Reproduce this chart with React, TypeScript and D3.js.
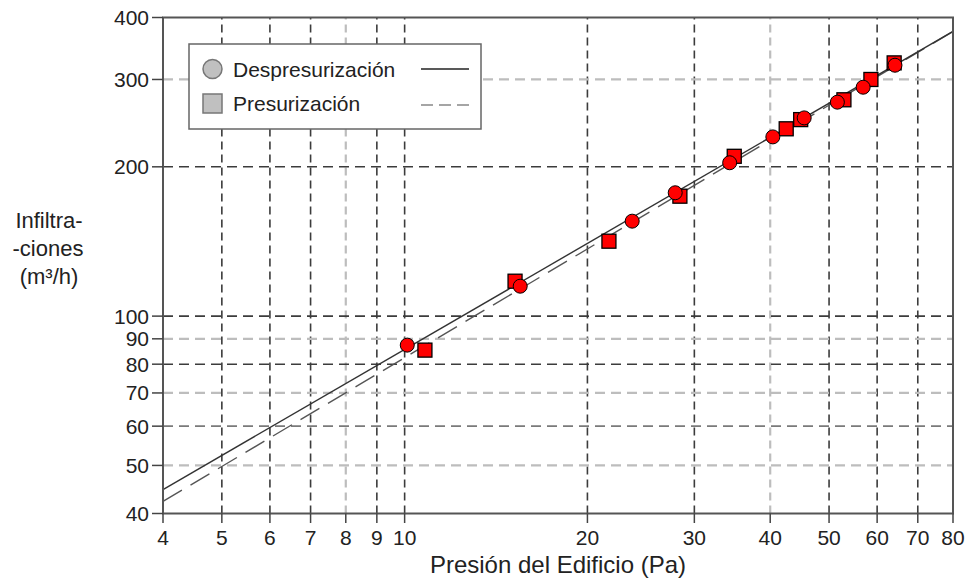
import * as d3 from "d3";

// Despresurización (circles)
const despX = [10.1, 15.5, 23.7, 27.9, 34.3, 40.4, 45.5, 51.6, 56.9, 64.2];
const despY = [87.4, 114.9, 155.4, 177.3, 203.8, 229.8, 251, 270, 289.4, 320.5];
// Presurización (squares)
const presX = [10.8, 15.2, 21.7, 28.4, 34.9, 42.5, 44.9, 52.9, 58.6, 64];
const presY = [85.4, 117.6, 141.6, 174.5, 210, 238.6, 249, 273, 300, 324];

// fitted power-law lines, end points
const fitX = [4, 80];
const fitDespY = [44.7, 375];
const fitPresY = [42.3, 375];

const xTicks = [4, 5, 6, 7, 8, 9, 10, 20, 30, 40, 50, 60, 70, 80];
const yTicks = [40, 50, 60, 70, 80, 90, 100, 200, 300, 400];
const xGrid = [5, 6, 7, 8, 9, 10, 20, 30, 40, 50, 60, 70];
const yGrid = [50, 60, 70, 80, 90, 100, 200, 300];
const xGridLight = [8, 40];
const yGridLight = [50, 70, 90, 300];
const yGridMid = [60];

const W = 967;
const H = 579;
const FONT = "'Liberation Sans', Arial, sans-serif";

export default function App() {
  const x = d3.scaleLog().domain([4, 80]).range([163, 953]);
  const y = d3.scaleLog().domain([40, 400]).range([513.5, 17.5]);
  const [x0, x1] = x.range();
  const [y0, y1] = y.range();

  const line = d3
    .line<[number, number]>()
    .x((d) => x(d[0]))
    .y((d) => y(d[1]));

  const despFit = line(fitX.map((v, i) => [v, fitDespY[i]]) as [number, number][]);
  const presFit = line(fitX.map((v, i) => [v, fitPresY[i]]) as [number, number][]);

  const gridStroke = (light: boolean, mid = false) =>
    light ? "#bdbdbd" : mid ? "#7a7a7a" : "#3c3c3c";

  const sq = 14;

  return (
    <svg
      width={W}
      height={H}
      style={{ position: "absolute", left: 0, top: 0, background: "#fff" }}
      fontFamily={FONT}
    >
      {/* grid */}
      {xGrid.map((v) => {
        const light = xGridLight.includes(v);
        return (
          <line
            key={`gx${v}`}
            x1={x(v)}
            x2={x(v)}
            y1={y0}
            y2={y1}
            stroke={gridStroke(light)}
            strokeWidth={light ? 2.2 : 1.6}
            strokeDasharray="8,5"
          />
        );
      })}
      {yGrid.map((v) => {
        const light = yGridLight.includes(v);
        const mid = yGridMid.includes(v);
        return (
          <line
            key={`gy${v}`}
            x1={x0}
            x2={x1}
            y1={y(v)}
            y2={y(v)}
            stroke={gridStroke(light, mid)}
            strokeWidth={light ? 2.2 : 1.6}
            strokeDasharray="10,6"
          />
        );
      })}

      {/* fit lines */}
      <path d={presFit ?? ""} fill="none" stroke="#555" strokeWidth={1.4} strokeDasharray="22,10" />
      <path d={despFit ?? ""} fill="none" stroke="#333" strokeWidth={1.4} />

      {/* markers */}
      {presX.map((v, i) => (
        <rect
          key={`p${i}`}
          x={x(v) - sq / 2}
          y={y(presY[i]) - sq / 2}
          width={sq}
          height={sq}
          fill="#ff0000"
          stroke="#000"
          strokeWidth={1.3}
        />
      ))}
      {despX.map((v, i) => (
        <circle
          key={`d${i}`}
          cx={x(v)}
          cy={y(despY[i])}
          r={7}
          fill="#ff0000"
          stroke="#000"
          strokeWidth={1}
        />
      ))}

      {/* frame */}
      <rect x={x0} y={y1} width={x1 - x0} height={y0 - y1} fill="none" stroke="#555" strokeWidth={2} />

      {/* y axis ticks */}
      {yTicks.map((v) => (
        <g key={`yt${v}`}>
          <line x1={152} x2={x0} y1={y(v)} y2={y(v)} stroke="#444" strokeWidth={1.5} />
          <text
            x={149}
            y={y(v)}
            textAnchor="end"
            dominantBaseline="central"
            fontSize={21}
            fill="#222"
          >
            {v}
          </text>
        </g>
      ))}

      {/* x axis ticks */}
      {xTicks.map((v) => (
        <g key={`xt${v}`}>
          <line x1={x(v)} x2={x(v)} y1={y0} y2={523} stroke="#444" strokeWidth={1.5} />
          <text x={x(v)} y={545} textAnchor="middle" fontSize={21} fill="#222">
            {v}
          </text>
        </g>
      ))}

      {/* axis titles */}
      <text x={558} y={573} textAnchor="middle" fontSize={24} fill="#222">
        Presión del Edificio (Pa)
      </text>
      <g fontSize={22} fill="#222" textAnchor="middle">
        <text x={49} y={228}>Infiltra-</text>
        <text x={48} y={256}>-ciones</text>
        <text x={49} y={284}>(m³/h)</text>
      </g>

      {/* legend */}
      <g>
        <rect x={189} y={44} width={292} height={85} fill="#fff" stroke="#666" strokeWidth={1.5} />
        <circle cx={212.5} cy={69} r={9.5} fill="#c0c0c0" stroke="#777" strokeWidth={1.5} />
        <rect x={203} y={94} width={19} height={19} fill="#c0c0c0" stroke="#777" strokeWidth={1.5} />
        <text x={233} y={77} fontSize={21} fill="#222">
          Despresurización
        </text>
        <text x={233} y={111} fontSize={21} fill="#222">
          Presurización
        </text>
        <line x1={421} x2={469} y1={69} y2={69} stroke="#222" strokeWidth={1.5} />
        <line x1={421} x2={469} y1={105} y2={105} stroke="#888" strokeWidth={1.5} strokeDasharray="12,6" />
      </g>
    </svg>
  );
}
